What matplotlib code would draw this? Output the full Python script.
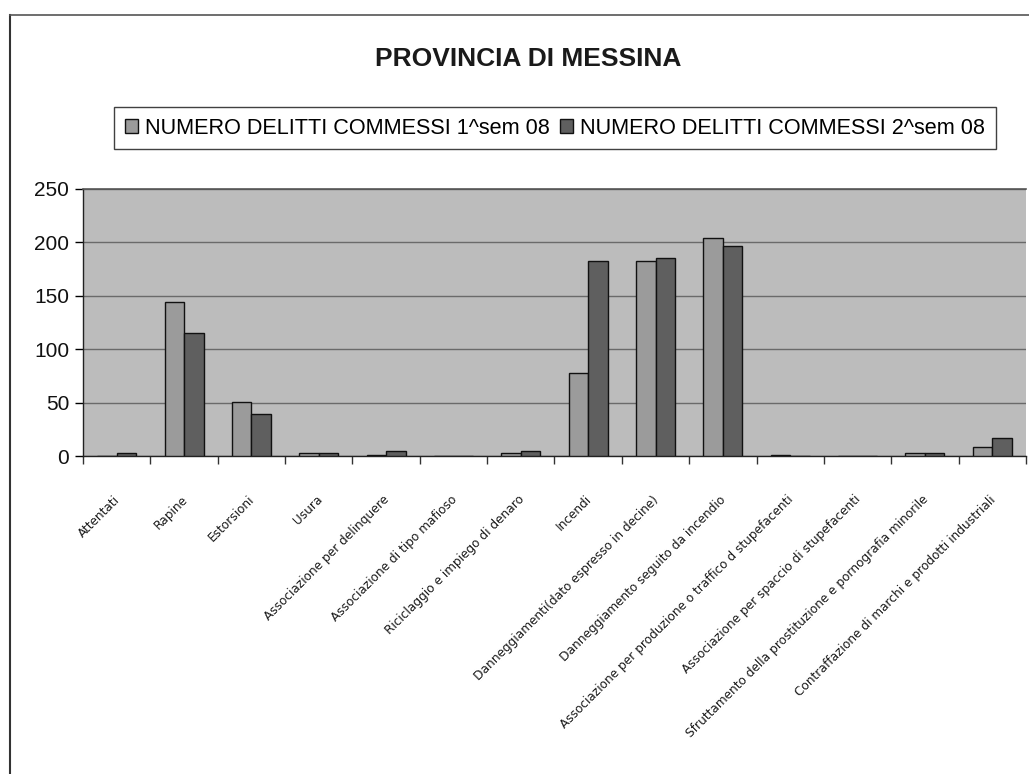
import matplotlib
matplotlib.use("Agg")
import matplotlib.pyplot as plt
import numpy as np
from matplotlib.lines import Line2D
from matplotlib.patches import Patch

categories = [
    "Attentati",
    "Rapine",
    "Estorsioni",
    "Usura",
    "Associazione per delinquere",
    "Associazione di tipo mafioso",
    "Riciclaggio e impiego di denaro",
    "Incendi",
    "Danneggiamenti(dato espresso in decine)",
    "Danneggiamento seguito da incendio",
    "Associazione per produzione o traffico d stupefacenti",
    "Associazione per spaccio di stupefacenti",
    "Sfruttamento della prostituzione e pornografia minorile",
    "Contraffazione di marchi e prodotti industriali",
]
sem1 = [0, 144, 51, 3, 1, 0, 3, 78, 183, 204, 1, 0, 3, 8]
sem2 = [3, 115, 39, 3, 5, 0, 5, 183, 185, 197, 0, 0, 3, 17]
series_names = ["NUMERO DELITTI COMMESSI 1^sem 08", "NUMERO DELITTI COMMESSI 2^sem 08"]
title = "PROVINCIA DI MESSINA"
yticks = [0, 50, 100, 150, 200, 250]

W, H = 1029, 774
fig = plt.figure(figsize=(W / 100, H / 100), dpi=100)
fig.patch.set_facecolor("white")

ax = fig.add_axes([83 / W, 1 - 456 / H, (1026 - 83) / W, (456 - 189) / H])
ax.set_facecolor("#bcbcbc")

x = np.arange(len(categories))
bw = 0.29
c1, c2 = "#9b9b9b", "#5f5f5f"
ax.bar(x - bw / 2, sem1, bw, color=c1, edgecolor="#111111", linewidth=1.0, zorder=3)
ax.bar(x + bw / 2, sem2, bw, color=c2, edgecolor="#111111", linewidth=1.0, zorder=3)

ax.set_xlim(-0.5, len(categories) - 0.5)
ax.set_ylim(0, 250)
ax.set_yticks(yticks)
ax.yaxis.grid(True, color="#6a6a6a", linewidth=1.0, zorder=1)
ax.set_axisbelow(True)
ax.tick_params(axis="y", labelsize=15, length=6, width=1, pad=4, labelcolor="#111111")
for lab in ax.get_yticklabels():
    lab.set_fontfamily("Liberation Sans")

ax.set_xticks(np.arange(len(categories) + 1) - 0.5, minor=False)
ax.set_xticklabels([])
ax.tick_params(axis="x", length=6, width=1, color="#333333")
for i, cat in enumerate(categories):
    ax.annotate(cat, xy=(i, 0), xycoords=("data", "data"),
                xytext=(1, -30), textcoords="offset points",
                rotation=45, rotation_mode="anchor", ha="right", va="center",
                fontsize=9.7, fontstretch="condensed", family="DejaVu Sans",
                color="#1a1a1a", annotation_clip=False)

for s in ["left", "bottom"]:
    ax.spines[s].set_color("#222222")
    ax.spines[s].set_linewidth(1.0)
ax.spines["top"].set_color("#555555")
ax.spines["top"].set_linewidth(1.2)
ax.spines["right"].set_visible(False)

fig.text(528 / W, 1 - 59 / H, title, ha="center", va="center",
         fontsize=19, fontweight="bold", family="Liberation Sans", color="#1a1a1a")

handles = [Patch(facecolor=c1, edgecolor="#111111"), Patch(facecolor=c2, edgecolor="#111111")]
leg = fig.legend(handles, series_names, loc="center", ncol=2,
                 bbox_to_anchor=(555 / W, 1 - 128 / H), frameon=True,
                 prop={"family": "Liberation Sans", "size": 15.6},
                 handlelength=0.6, handleheight=0.6, handletextpad=0.3,
                 columnspacing=0.5, borderpad=0.5, fancybox=False)
leg.get_frame().set_edgecolor("#111111")
leg.get_frame().set_linewidth(1.0)

fig.add_artist(Line2D([10 / W, 10 / W], [0, 1 - 15 / H], color="#333333", linewidth=1.5, transform=fig.transFigure))
fig.add_artist(Line2D([10 / W, 1], [1 - 15 / H, 1 - 15 / H], color="#555555", linewidth=1.2, transform=fig.transFigure))

fig.savefig("out.png", dpi=100)
